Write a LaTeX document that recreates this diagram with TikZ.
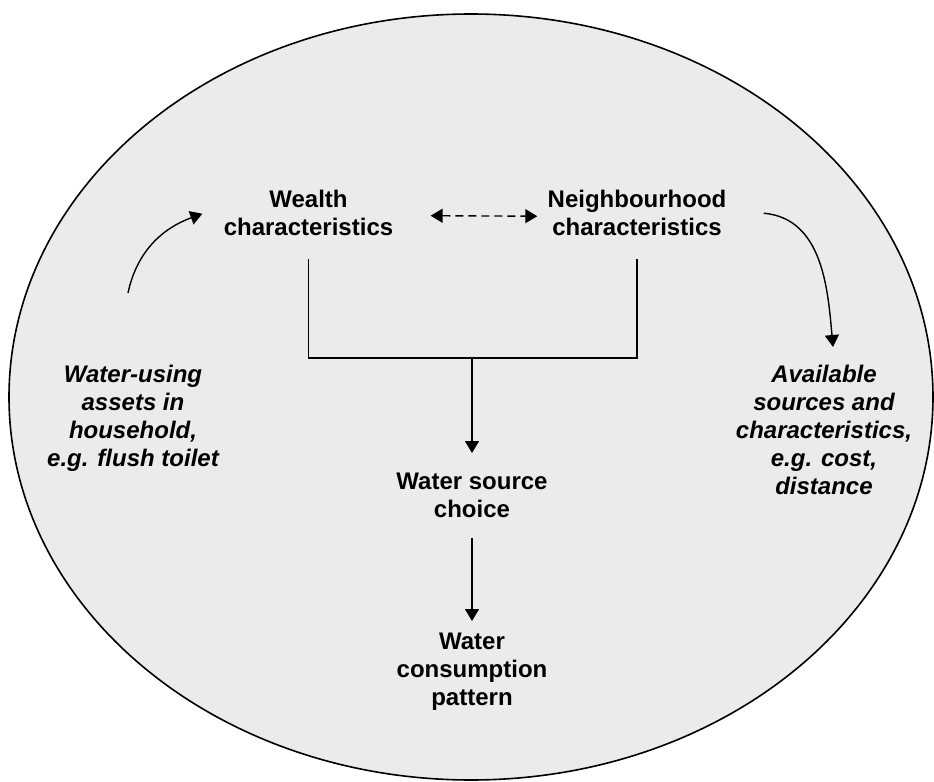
\documentclass[tikz,border=0pt]{standalone}
\usepackage{fontspec}
\setmainfont{Liberation Sans}
\usetikzlibrary{arrows.meta}
\definecolor{ovalgray}{RGB}{235,235,235}
\begin{document}
\begin{tikzpicture}[
    x=0.5pt, y=-0.5pt,
    factor/.style={inner sep=0pt, anchor=north, align=center, font=\fontsize{12}{14}\selectfont\bfseries},
    note/.style={factor, font=\fontsize{12}{14}\selectfont\bfseries\itshape},
    arrow/.style={-{Triangle[length=6pt,width=7pt]}, line width=0.7pt},
    dasharrow/.style={{Triangle[length=6pt,width=7pt]}-{Triangle[length=6pt,width=7pt]}, line width=0.7pt, dash pattern=on 4pt off 2.5pt}
]
\useasboundingbox (0,0) rectangle (934,782);
% Background oval
\draw[fill=ovalgray, line width=0.8pt] (471,397) ellipse [x radius=231pt, y radius=191.5pt];

% Factors
\node[factor] (wealth) at (308.5,189.5) {Wealth\\characteristics};
\node[factor] (neigh) at (637,190) {Neighbourhood\\characteristics};
\node[factor] (choice) at (472,473) {Water source\\choice};
\node[factor] (consume) at (472,633) {Water\\consumption\\pattern};

% Side notes
\node[note] (assets) at (133,365) {Water-using\\assets in\\household,\\e.g. flush toilet};
\node[note] (sources) at (824,365) {Available\\sources and\\characteristics,\\e.g. cost,\\distance};

\coordinate (join) at (472,358);

\draw[line width=0.7pt] ([yshift=-11.5pt]wealth.south) -- (wealth.south |- join) -- (neigh.south |- join) -- ([yshift=-11.5pt]neigh.south);
\draw[arrow] (join) -- ([yshift=10pt]choice.north);
\draw[arrow] ([yshift=-9.5pt]choice.south) -- ([yshift=6pt]consume.north);
\draw[dasharrow] ([xshift=18.5pt,yshift=-1.5pt]wealth.east) -- ([xshift=-5pt,yshift=-1.5pt]neigh.west);
\draw[arrow] ([xshift=-2.5pt,yshift=36pt]assets.north) to[out=78,in=200] ([xshift=-10.5pt,yshift=-0.5pt]wealth.west);
\draw[arrow] ([xshift=18.5pt]neigh.east) to[out=-5,in=95] ([xshift=4.5pt,yshift=9pt]sources.north);
\end{tikzpicture}
\end{document}
